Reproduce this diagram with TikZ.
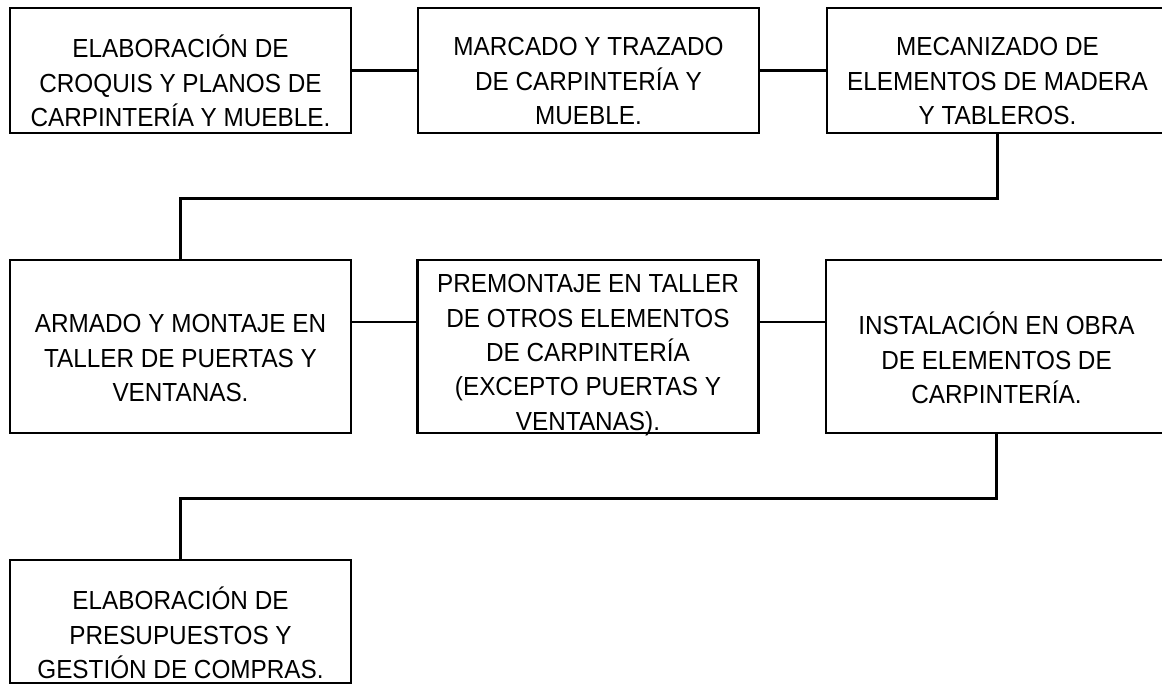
\documentclass[tikz,border=0pt]{standalone}
\usepackage{fontspec}
\setmainfont{Liberation Sans}[FakeStretch=0.93]
\begin{document}
\begin{tikzpicture}[x=0.75pt,y=-0.75pt,
    box/.style={draw,line width=2.1pt,minimum width=255.75pt,inner sep=0pt},
    txt/.style={align=center,inner sep=0pt,font=\fontsize{19.6}{25.8}\selectfont},
    link/.style={line width=1.6pt},
    elbow/.style={line width=2.1pt}]
  \useasboundingbox (0,0) rectangle (1162,686);
  % first row
  \node[box,minimum height=93.75pt] (croquis) at (180.5,70.5) {};
  \node[box,minimum height=93.75pt] (marcado) at (588.5,70.5) {};
  \node[box,minimum height=93.75pt] (mecanizado) at (997.5,70.5) {};
  \node[txt] (croquis-t) at (180.5,81) {ELABORACIÓN DE\\CROQUIS Y PLANOS DE\\CARPINTERÍA Y MUEBLE.};
  \node[txt] (marcado-t) at (588.5,81) {MARCADO Y TRAZADO\\DE CARPINTERÍA Y\\MUEBLE.};
  \node[txt] (mecanizado-t) at (997.5,81) {MECANIZADO DE\\ELEMENTOS DE MADERA\\Y TABLEROS.};
  % second row
  \node[box,minimum height=129.75pt] (armado) at (180.5,346.5) {};
  \node[box,minimum height=129.75pt] (premontaje) at (588,346.5) {};
  \node[box,minimum height=129.75pt] (instalacion) at (996.5,346.5) {};
  \node[txt] (armado-t) at (180.5,358) {ARMADO Y MONTAJE EN\\TALLER DE PUERTAS Y\\VENTANAS.};
  \node[txt] (premontaje-t) at (588,355) {PREMONTAJE EN TALLER\\DE OTROS ELEMENTOS\\DE CARPINTERÍA\\(EXCEPTO PUERTAS Y\\VENTANAS).};
  \node[txt] (instalacion-t) at (996.5,358) {INSTALACIÓN EN OBRA\\DE ELEMENTOS DE\\CARPINTERÍA.};
  % third row
  \node[box,minimum height=92.25pt] (presupuestos) at (180.5,621.5) {};
  \node[txt] (presupuestos-t) at (180.5,633) {ELABORACIÓN DE\\PRESUPUESTOS Y\\GESTIÓN DE COMPRAS.};
  % connectors
  \draw[link] (croquis) -- (marcado);
  \draw[link] (marcado) -- (mecanizado);
  \draw[link] ([yshift=18.4pt]armado.east) -- ([yshift=18.4pt]premontaje.west);
  \draw[link] ([yshift=18.4pt]premontaje.east) -- ([yshift=18.4pt]instalacion.west);
  \draw[elbow] (mecanizado.south) -- ++(0,64) -| (armado.north);
  \draw[elbow] (instalacion.south) -- ++(0,64) -| (presupuestos.north);
\end{tikzpicture}
\end{document}
